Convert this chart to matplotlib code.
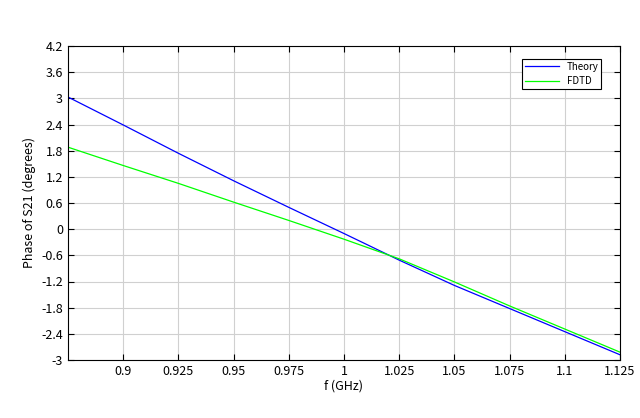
import matplotlib
matplotlib.use("Agg")
import matplotlib.pyplot as plt
import numpy as np

freq = [0.875, 0.9, 0.925, 0.95, 0.975, 1.0, 1.025, 1.05, 1.075, 1.1, 1.125]
theory = [3.03, 2.39, 1.74, 1.11, 0.50, -0.10, -0.71, -1.29, -1.82, -2.35, -2.88]
fdtd = [1.88, 1.46, 1.05, 0.62, 0.20, -0.23, -0.68, -1.21, -1.76, -2.29, -2.82]
xticks = [0.9, 0.925, 0.95, 0.975, 1.0, 1.025, 1.05, 1.075, 1.1, 1.125]
xticklabels = ["0.9", "0.925", "0.95", "0.975", "1", "1.025", "1.05", "1.075", "1.1", "1.125"]
yticks = [-3, -2.4, -1.8, -1.2, -0.6, 0, 0.6, 1.2, 1.8, 2.4, 3, 3.6, 4.2]
yticklabels = ["-3", "-2.4", "-1.8", "-1.2", "-0.6", "0", "0.6", "1.2", "1.8", "2.4", "3", "3.6", "4.2"]

plt.rcParams['font.family'] = ['Noto Sans CJK SC', 'DejaVu Sans']
fig = plt.figure(figsize=(6.4, 4.18), dpi=100)
ax = fig.add_axes([68/640, 1-360/418, 552/640, 314/418])
ax.plot(freq, theory, color='#0000ff', lw=0.9, label='Theory')
ax.plot(freq, fdtd, color='#00ff00', lw=0.9, label='FDTD')
ax.set_xlim(0.875, 1.125)
ax.set_ylim(-3, 4.2)
ax.set_xticks(xticks)
ax.set_xticklabels(xticklabels)
ax.set_yticks(yticks)
ax.set_yticklabels(yticklabels)
ax.grid(True, color='#d0d0d0', lw=0.8)
ax.tick_params(direction='in', labelsize=9, top=True, right=True, length=4)
ax.set_xlabel('f (GHz)', fontsize=9, labelpad=1)
ax.set_ylabel('Phase of S21 (degrees)', fontsize=9)
leg = ax.legend(loc='upper right', fontsize=7, fancybox=False, edgecolor='black',
                framealpha=1, borderpad=0.3, handlelength=3.5, bbox_to_anchor=(0.975, 0.975))
leg.get_frame().set_linewidth(0.8)
fig.savefig('out.png', dpi=100)
